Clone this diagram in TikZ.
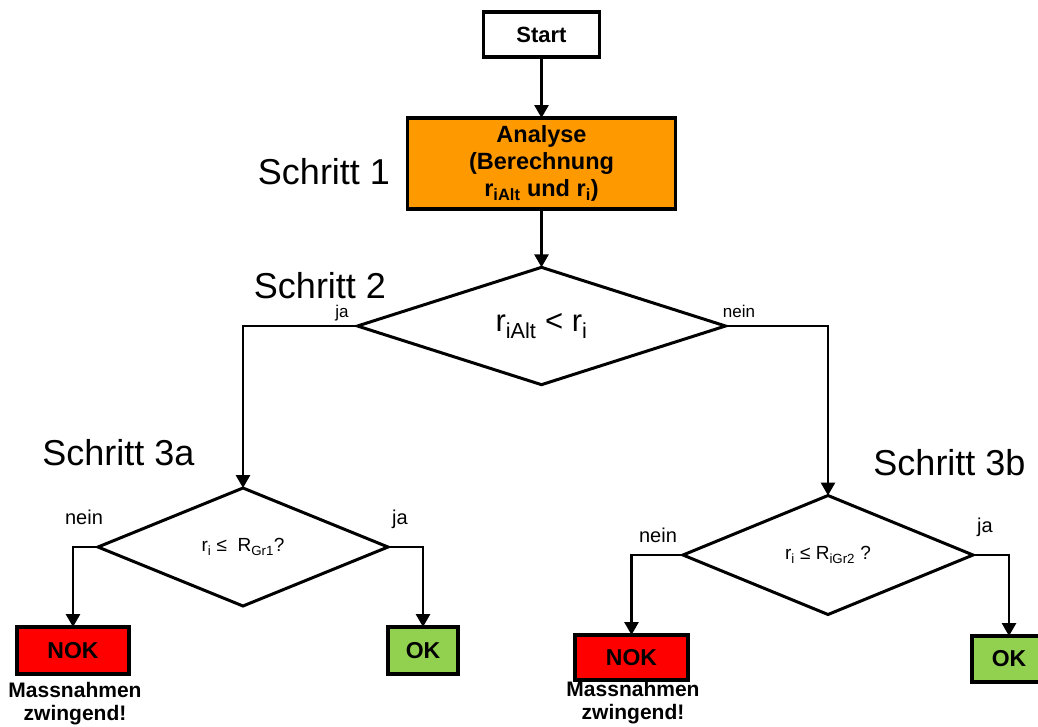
\documentclass[tikz,border=0pt]{standalone}
\usepackage{fontspec}
\setmainfont{Liberation Sans}
\usetikzlibrary{shapes.geometric,arrows.meta}
\definecolor{orng}{HTML}{FF9900}
\definecolor{nokred}{HTML}{FF0000}
\definecolor{okgreen}{HTML}{92D050}
\begin{document}
\begin{tikzpicture}[x=1pt,y=-1pt,
  box/.style={draw, rectangle, line width=3.5pt, inner sep=0pt, outer sep=0pt, font=\bfseries\fontsize{23}{27}\selectfont},
  dec/.style={draw, diamond, line width=3pt, inner sep=0pt, outer sep=0pt},
  conn/.style={line width=2.8pt, -{Triangle[length=13pt,width=14pt]}},
  step lbl/.style={anchor=base, font=\fontsize{36}{40}\selectfont},
  small lbl/.style={anchor=base, font=\fontsize{17}{20}\selectfont},
  branch lbl/.style={anchor=base, font=\fontsize{20}{24}\selectfont},
  note/.style={align=center, font=\bfseries\fontsize{21}{23}\selectfont, inner sep=0pt}]
\useasboundingbox (0,0) rectangle (1038,726);

% nodes
\node[box, minimum width=116, minimum height=45, font=\bfseries\fontsize{22}{26}\selectfont] (start) at (541.5,34.5) {Start};
\node[box, fill=orng, minimum width=268, minimum height=91, align=center, font=\bfseries\fontsize{23.5}{27}\selectfont] (analyse) at (541.5,163.5)
  {Analyse\\(Berechnung\\r\textsubscript{iAlt} und r\textsubscript{i})};
\node[dec, minimum width=368, minimum height=116, font=\fontsize{31}{34}\selectfont] (d1) at (541.5,326) {r\textsubscript{iAlt} < r\textsubscript{i}};
\node[dec, minimum width=290, minimum height=118, font=\fontsize{19}{22}\selectfont] (d2) at (243,547) {r\textsubscript{i} ≤\ \ R\textsubscript{Gr1}?};
\node[dec, minimum width=290, minimum height=119, font=\fontsize{19}{22}\selectfont] (d3) at (828,555) {r\textsubscript{i} ≤ R\textsubscript{iGr2} ?};

\node[box, fill=nokred, minimum width=112, minimum height=47] (nok1) at (73,650.5) {NOK};
\node[box, fill=okgreen, minimum width=70, minimum height=47] (ok1) at (423,650.5) {OK};
\node[box, fill=nokred, minimum width=113, minimum height=45] (nok2) at (631.5,657.5) {NOK};
\node[box, fill=okgreen, minimum width=74, minimum height=46] (ok2) at (1009,659) {OK};

\node[note] (m1) at (75,704) {Massnahmen\\zwingend!};
\node[note] (m2) at (633,703) {Massnahmen\\zwingend!};

% step labels
\node[step lbl] (s1) at (324,184) {Schritt 1};
\node[step lbl] (s2) at (320,298) {Schritt 2};
\node[step lbl] (s3a) at (118.5,465) {Schritt 3a};
\node[step lbl] (s3b) at (949.5,475) {Schritt 3b};

% branch labels
\node[small lbl] (l1) at (342,317) {ja};
\node[small lbl] (l2) at (739,317) {nein};
\node[branch lbl] (l3) at (84,524) {nein};
\node[branch lbl] (l4) at (400,524) {ja};
\node[branch lbl] (l5) at (658,542) {nein};
\node[branch lbl] (l6) at (985,532) {ja};

% connectors
\draw[conn] (start.south) -- (analyse.north);
\draw[conn] (analyse.south) -- (d1.north);
\draw[conn] (d1.west) -| (d2.north);
\draw[conn] (d1.east) -| (d3.north);
\draw[conn] (d2.west) -| (nok1.north);
\draw[conn] (d2.east) -| (ok1.north);
\draw[conn] (d3.west) -| (nok2.north);
\draw[conn] (d3.east) -| (ok2.north);
\end{tikzpicture}
\end{document}
